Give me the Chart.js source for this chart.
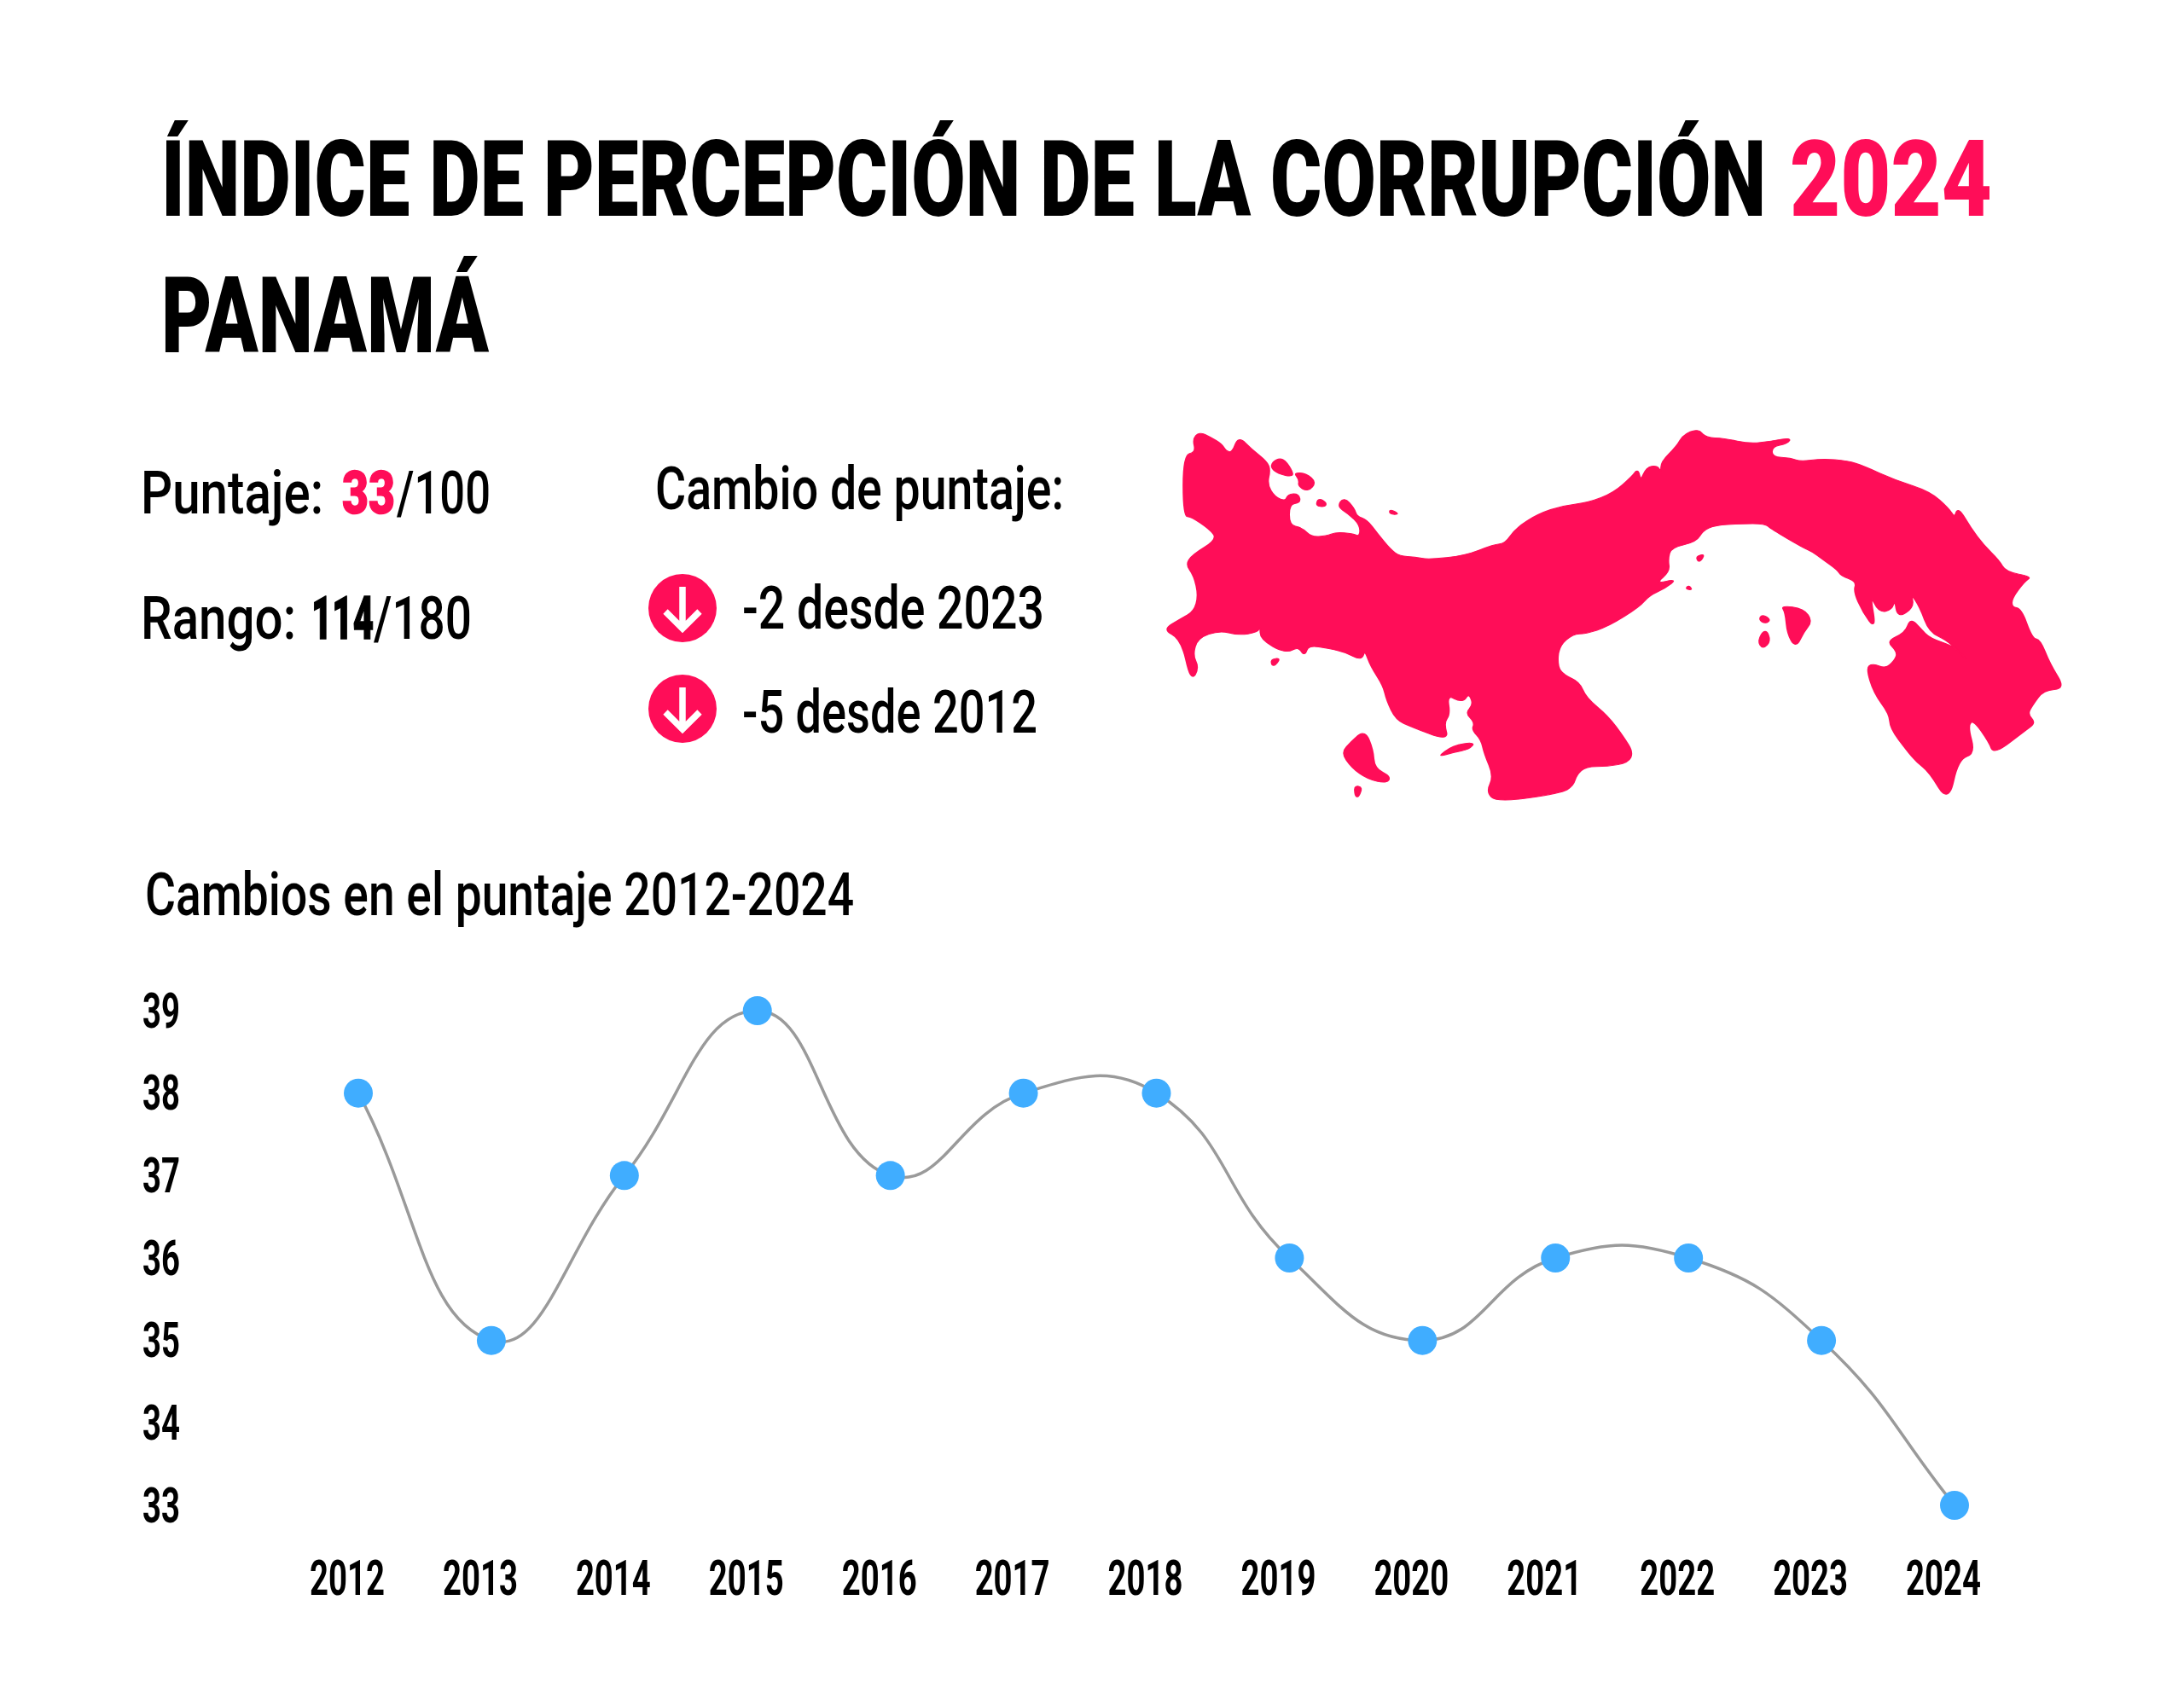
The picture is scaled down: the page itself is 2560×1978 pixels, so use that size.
<!DOCTYPE html>
<html lang="es">
<head>
  <meta charset="UTF-8" />
  <title>Índice de Percepción de la Corrupción 2024 - Panamá</title>
  <script src="https://cdn.jsdelivr.net/npm/chart.js"></script>
  <style>
    html, body { margin: 0; padding: 0; background: #fff; }
    body { width: 2560px; height: 1978px; position: relative; overflow: hidden; }
    #overlay { position: absolute; left: 0; top: 0; }
    #wrap { position: absolute; left: 0; top: 1100px; width: 2560px; height: 878px; }
    text { font-family: "Roboto", sans-serif; fill: #000; }
    .title { font-size: 124px; font-weight: 900; }
    .big { font-size: 70px; font-weight: 500; }
    .pink { fill: #ff0d58; }
    .b { font-weight: 900; stroke-width: 1.5; stroke: currentColor; }
  </style>
</head>
<body>

  <svg id="overlay" width="2560" height="1978" viewBox="0 0 2560 1978">
    <text class="title" x="189" y="253" textLength="1881" lengthAdjust="spacingAndGlyphs">ÍNDICE DE PERCEPCIÓN DE LA CORRUPCIÓN</text>
    <text class="title pink" x="2098" y="253" textLength="237" lengthAdjust="spacingAndGlyphs">2024</text>
    <text class="title" x="189" y="413" textLength="384" lengthAdjust="spacingAndGlyphs">PANAMÁ</text>

    <text class="big" x="165" y="602" textLength="214" lengthAdjust="spacingAndGlyphs">Puntaje:</text>
    <text class="big pink b" style="color:#ff0d58" x="401" y="602" textLength="62" lengthAdjust="spacingAndGlyphs">33</text>
    <text class="big" x="465" y="602" textLength="110" lengthAdjust="spacingAndGlyphs">/100</text>
    <text class="big" x="165" y="749" textLength="182" lengthAdjust="spacingAndGlyphs">Rango:</text>
    <text class="big b" x="365" y="749" textLength="73" lengthAdjust="spacingAndGlyphs">114</text>
    <text class="big" x="438" y="749" textLength="115" lengthAdjust="spacingAndGlyphs">/180</text>
    <text class="big" x="768" y="597" textLength="479" lengthAdjust="spacingAndGlyphs">Cambio de puntaje:</text>
    <text class="big" x="870" y="737" textLength="354" lengthAdjust="spacingAndGlyphs">-2 desde 2023</text>
    <text class="big" x="870" y="859" textLength="346" lengthAdjust="spacingAndGlyphs">-5 desde 2012</text>
    <text class="big" x="170" y="1073" textLength="831" lengthAdjust="spacingAndGlyphs">Cambios en el puntaje 2012-2024</text>

    <g transform="translate(800,713)">
      <circle r="40" fill="#ff0d58"/>
      <path d="M0 -25 V24 M-20 4 L0 24 L20 4" stroke="#fff" stroke-width="7.5" fill="none"/>
    </g>
    <g transform="translate(800,831)">
      <circle r="40" fill="#ff0d58"/>
      <path d="M0 -25 V24 M-20 4 L0 24 L20 4" stroke="#fff" stroke-width="7.5" fill="none"/>
    </g>

    <svg x="1300" y="480" width="1160" height="480" viewBox="0 0 1568 1450" preserveAspectRatio="none">
      <g id="map" fill="#ff0d58" stroke="#ff0d58" stroke-width="3" stroke-linejoin="round"></g>
    </svg>
  </svg>

  <div id="wrap"><canvas id="scoreChart" width="2560" height="878"></canvas></div>

  <script>
    const years = ['2012', '2013', '2014', '2015', '2016', '2017', '2018', '2019', '2020', '2021', '2022', '2023', '2024'];
    const scores = [38, 35, 37, 39, 37, 38, 38, 36, 35, 36, 36, 35, 33];
    const scoreTicks = [33, 34, 35, 36, 37, 38, 39];

    // silueta de Panama, trazada a mano
    const mapShapes = [
      '118,160 138,152 133,105 143,80 160,98 178,122 185,148 196,152 205,95 225,140 250,185 255,215 250,265 262,310 280,325 284,300 300,298 303,332 285,335 285,410 305,418 320,452 345,448 360,435 385,440 398,450 398,410 380,370 362,345 372,310 388,350 392,378 408,390 425,440 445,495 460,520 485,522 505,532 565,518 610,478 628,475 645,420 680,370 720,340 760,330 800,295 830,235 838,210 842,255 852,205 868,198 875,225 875,185 900,130 910,90 933,68 945,100 975,102 1015,122 1050,112 1080,100 1075,122 1050,132 1050,168 1080,172 1095,185 1130,175 1170,182 1195,200 1245,250 1300,290 1330,350 1340,385 1345,345 1365,420 1385,480 1410,535 1420,575 1462,592 1450,610 1430,670 1430,700 1445,705 1462,810 1475,815 1490,900 1515,990 1480,995 1462,1050 1455,1080 1468,1110 1450,1140 1402,1222 1395,1180 1370,1100 1360,1120 1372,1220 1345,1240 1330,1395 1300,1285 1280,1250 1265,1210 1238,1130 1237,1080 1212,1005 1200,915 1210,900 1230,918 1245,890 1250,860 1232,820 1262,790 1270,740 1285,775 1300,810 1340,840 1365,900 1330,820 1300,790 1285,700 1270,650 1275,700 1250,740 1245,670 1240,710 1220,720 1205,650 1215,780 1195,720 1180,645 1185,610 1160,590 1155,570 1130,530 1115,505 1100,490 1050,425 1040,405 1000,405 960,410 940,430 930,470 890,490 885,530 888,575 865,618 900,600 880,635 855,660 840,700 790,770 755,795 735,795 712,840 710,910 720,940 745,965 755,1020 790,1085 815,1160 830,1215 822,1252 790,1265 755,1265 740,1295 735,1335 715,1360 615,1392 598,1355 610,1300 595,1220 590,1170 575,1135 580,1110 565,1075 578,1045 570,1005 560,1040 535,1010 540,1080 530,1110 538,1175 480,1125 455,1100 440,1030 435,980 415,910 405,850 400,890 375,860 350,848 315,835 310,875 300,840 280,865 240,815 240,765 235,790 205,800 175,783 140,810 132,870 142,915 130,965 115,815 85,780 115,740 135,715 142,660 135,590 122,550 132,515 172,460 160,425 130,380 118,380',
      '405,1135 418,1205 420,1270 446,1300 440,1325 410,1310 385,1270 368,1215 385,1175',
      '388,1332 402,1338 392,1385',
      '520,1232 545,1190 580,1178 570,1205 545,1215',
      '1065,695 1100,705 1114,750 1100,790 1088,845 1075,795 1072,720',
      '1040,775 1048,820 1036,850 1028,820',
      '1035,725 1048,745 1040,760 1030,745',
      '262,180 275,172 288,210 292,240 268,228 256,205',
      '293,224 312,226 328,258 315,292 300,272 302,250',
      '332,314 344,330 342,346 328,342',
      '445,352 460,372 445,372',
      '256,885 272,880 260,915',
      '918,622 924,640 914,637',
      '930,520 944,512 935,545'
    ];

    // curva por los puntos medios para que la costa no quede tan angulosa
    function smoothPath(shape) {
      const pts = shape.split(' ').map(p => p.split(',').map(Number));
      const mid = (a, b) => [(a[0] + b[0]) / 2, (a[1] + b[1]) / 2];
      let d = 'M' + mid(pts[pts.length - 1], pts[0]).join(' ');
      pts.forEach((p, i) => {
        d += ' Q' + p.join(' ') + ' ' + mid(p, pts[(i + 1) % pts.length]).join(' ');
      });
      return d + 'Z';
    }

    document.getElementById('map').innerHTML = mapShapes.map(s => '<path d="' + smoothPath(s) + '"/>').join('');

    // la fuente condensada del original no existe aqui: se estrechan los numeros de los ejes
    const condensedTicks = {
      id: 'condensedTicks',
      afterDraw(chart) {
        const ctx = chart.ctx;
        const put = (label, x, y, align) => {
          ctx.save();
          ctx.translate(x, y);
          ctx.scale(0.66, 1);
          ctx.font = '700 58px Roboto, sans-serif';
          ctx.fillStyle = '#000';
          ctx.textBaseline = 'middle';
          ctx.textAlign = align;
          ctx.fillText(label, 0, 0);
          ctx.restore();
        };
        const x = chart.scales.x;
        const y = chart.scales.y;
        x.ticks.forEach((t, i) => put(t.label, x.getPixelForTick(i) - 13, x.top + 90, 'center'));
        y.ticks.forEach((t, i) => put(t.label, y.left + 2, y.getPixelForTick(i) + 5, 'left'));
      }
    };

    new Chart(document.getElementById('scoreChart'), {
      type: 'line',
      plugins: [condensedTicks],
      data: {
        labels: years,
        datasets: [{
          data: scores,
          borderColor: '#9a9a9a',
          borderWidth: 3.5,
          tension: 0.45,
          pointRadius: 17,
          pointBackgroundColor: '#40adff',
          pointBorderWidth: 0,
          clip: false
        }]
      },
      options: {
        responsive: false,
        devicePixelRatio: 1,
        animation: false,
        layout: { padding: { left: 165, right: 269, top: 85, bottom: 100 } },
        plugins: { legend: { display: false }, tooltip: { enabled: false } },
        scales: {
          x: {
            type: 'category',
            offset: false,
            grid: { display: false },
            border: { display: false },
            ticks: { display: false, autoSkip: false },
            afterFit: (scale) => { scale.height = 113; }
          },
          y: {
            min: 33,
            max: 39,
            afterBuildTicks: (scale) => { scale.ticks = scoreTicks.map(v => ({ value: v })); },
            grid: { display: false },
            border: { display: false },
            ticks: { display: false },
            afterFit: (scale) => { scale.width = 255; }
          }
        }
      }
    });
  </script>

</body>
</html>
